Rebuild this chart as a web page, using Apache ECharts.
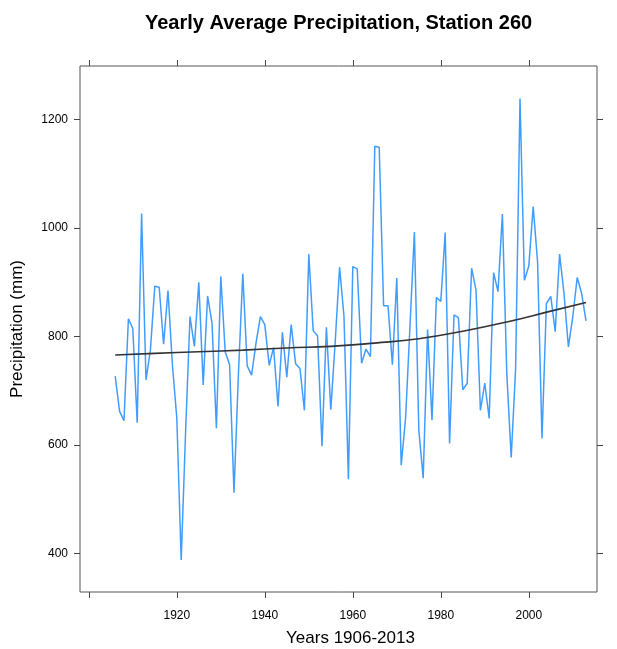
<!DOCTYPE html>
<html>
<head>
<meta charset="utf-8">
<script src="https://cdn.jsdelivr.net/npm/echarts@6/dist/echarts.min.js"></script>
<style>html,body{margin:0;padding:0;background:#fff}#chart{width:617px;height:649px}</style>
</head>
<body>
<div id="chart"></div>
<script>
const startYear = 1906;
const precip = [
  727, 662, 645, 833, 815, 641, 1027, 720, 775, 893,   // 1906-1915
  891, 786, 885, 748, 650, 388, 625, 837, 782, 900,    // 1916-1925
  711, 875, 825, 631, 911, 772, 748, 512, 730, 916,    // 1926-1935
  746, 729, 788, 837, 822, 747, 780, 671, 808, 725,    // 1936-1945
  822, 750, 741, 664, 952, 811, 801, 598, 817, 665,    // 1946-1955
  790, 928, 837, 537, 929, 925, 751, 777, 763, 1151,   // 1956-1965
  1149, 857, 857, 748, 908, 563, 650, 820, 993, 628,   // 1966-1975
  539, 813, 646, 872, 865, 992, 603, 840, 835, 702,    // 1976-1985
  714, 926, 886, 664, 714, 649, 918, 883, 1026, 732,   // 1986-1995
  577, 740, 1239, 904, 930, 1040, 937, 612, 861, 874,  // 1996-2005
  809, 952, 880, 781, 837, 909, 880, 829               // 2006-2013
];
const years = precip.map((_, i) => startYear + i);
const trendYears = [1906, 1915, 1925, 1935, 1945, 1955, 1965, 1975, 1985, 1995, 2005, 2013];
const trendValues = [766, 769, 772, 775, 779, 782, 788, 796, 810, 827, 847, 863];
const xTickValues = [1900, 1920, 1940, 1960, 1980, 2000];
const xLabelValues = [1920, 1940, 1960, 1980, 2000];
const yTickValues = [400, 600, 800, 1000, 1200];

const chart = echarts.init(document.getElementById('chart'), null, {renderer: 'canvas'});
const font = 'Liberation Sans, Arial, sans-serif';
const tickStyle = {lineStyle: {color: '#444', width: 1}, length: 6};
const plain = v => String(v);
chart.setOption({
  animation: false,
  title: {
    text: 'Yearly Average Precipitation, Station 260',
    left: 140, top: 8,
    textStyle: {fontFamily: font, fontSize: 20, fontWeight: 'bold', color: '#000'}
  },
  grid: {left: 80, top: 66, width: 517, height: 526, outerBoundsMode: 'none', containLabel: false,
         show: true, borderColor: '#555', borderWidth: 1, backgroundColor: 'transparent'},
  xAxis: [{
    type: 'value', min: 1898, max: 2015.5, position: 'bottom',
    name: 'Years 1906-2013', nameLocation: 'middle', nameGap: 38,
    nameTextStyle: {fontFamily: font, fontSize: 17, color: '#000', padding: [0, 0, 0, 24]},
    axisLine: {show: false},
    axisTick: Object.assign({show: true, customValues: xTickValues}, tickStyle),
    axisLabel: {customValues: xLabelValues, formatter: plain, fontFamily: font, fontSize: 12, color: '#000', margin: 18},
    splitLine: {show: false}
  }, {
    type: 'value', min: 1898, max: 2015.5, position: 'top',
    axisLine: {show: false},
    axisTick: Object.assign({show: true, customValues: xTickValues}, tickStyle),
    axisLabel: {show: false},
    splitLine: {show: false}
  }],
  yAxis: [{
    type: 'value', min: 329, max: 1299, position: 'left',
    name: 'Precipitation (mm)', nameLocation: 'middle', nameGap: 54, nameRotate: 90,
    nameTextStyle: {fontFamily: font, fontSize: 17, color: '#000'},
    axisLine: {show: false},
    axisTick: Object.assign({show: true, customValues: yTickValues}, tickStyle),
    axisLabel: {customValues: yTickValues, formatter: plain, fontFamily: font, fontSize: 12, color: '#000', margin: 12},
    splitLine: {show: false}
  }, {
    type: 'value', min: 329, max: 1299, position: 'right',
    axisLine: {show: false},
    axisTick: Object.assign({show: true, customValues: yTickValues}, tickStyle),
    axisLabel: {show: false},
    splitLine: {show: false}
  }],
  series: [{
    type: 'line', xAxisIndex: 0, yAxisIndex: 0,
    data: years.map((y, i) => [y, precip[i]]),
    symbol: 'none',
    lineStyle: {color: '#409dff', width: 1.5}
  }, {
    type: 'line', xAxisIndex: 0, yAxisIndex: 0,
    data: trendYears.map((y, i) => [y, trendValues[i]]),
    symbol: 'none', smooth: true,
    lineStyle: {color: '#333', width: 1.6}
  }]
});
</script>
</body>
</html>
